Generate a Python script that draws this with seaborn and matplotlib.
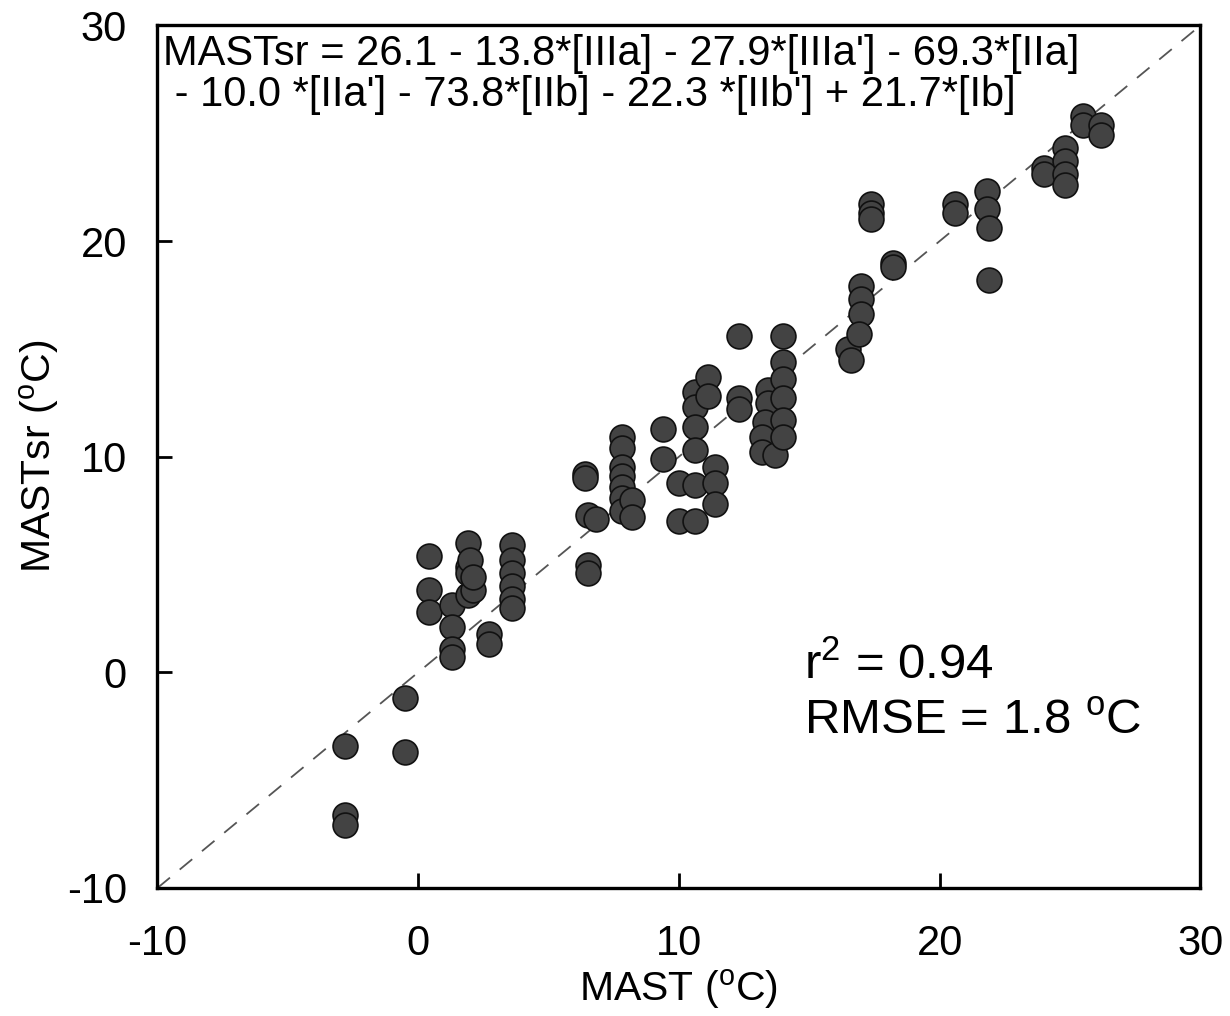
import numpy as np
import pandas as pd
import seaborn as sns
import matplotlib.pyplot as plt

mast = [-2.8, -2.8, -2.8,
        -0.5, -0.5,
        0.4, 0.4, 0.4,
        1.3, 1.3, 1.3, 1.3,
        1.9, 1.9, 1.9, 1.9, 2.1, 2.0, 2.1,
        2.7, 2.7,
        3.6, 3.6, 3.6, 3.6, 3.6, 3.6,
        6.4, 6.4, 6.5, 6.8, 6.5, 6.5,
        7.8, 7.8, 7.8, 7.8, 7.8, 7.8, 7.8,
        8.2, 8.2,
        9.4, 9.4,
        10.0, 10.0,
        10.6, 10.6, 10.6, 10.6, 10.6, 10.6,
        11.1, 11.1,
        11.4, 11.4, 11.4,
        12.3, 12.3, 12.3,
        13.4, 13.4, 13.3, 13.2, 13.2, 13.7,
        14.0, 14.0, 14.0, 14.0, 14.0, 14.0,
        16.5, 16.6,
        17.0, 17.0, 17.0, 16.9,
        17.35, 17.35, 17.35,
        18.2, 18.2,
        20.6, 20.6,
        21.8, 21.8, 21.9, 21.9,
        24.0, 24.0,
        24.8, 24.8, 24.8, 24.8,
        25.5, 25.5,
        26.2, 26.2]
mastsr = [-3.4, -6.6, -7.1,
          -1.2, -3.7,
          5.4, 3.8, 2.8,
          3.1, 2.1, 1.1, 0.7,
          6.0, 4.9, 4.6, 3.6, 3.8, 5.2, 4.4,
          1.8, 1.3,
          5.9, 5.2, 4.6, 4.0, 3.4, 3.0,
          9.2, 9.0, 7.3, 7.1, 5.0, 4.6,
          10.9, 10.4, 9.5, 9.1, 8.6, 8.1, 7.5,
          8.0, 7.2,
          11.3, 9.9,
          8.8, 7.0,
          13.0, 12.3, 11.4, 10.3, 8.7, 7.0,
          13.7, 12.8,
          9.5, 8.8, 7.8,
          15.6, 12.7, 12.2,
          13.1, 12.5, 11.6, 10.9, 10.2, 10.1,
          15.6, 14.4, 13.6, 12.7, 11.7, 10.9,
          15.0, 14.5,
          17.9, 17.3, 16.6, 15.7,
          21.7, 21.3, 21.0,
          19.0, 18.8,
          21.7, 21.3,
          22.3, 21.5, 20.6, 18.2,
          23.4, 23.1,
          24.3, 23.7, 23.1, 22.6,
          25.8, 25.4,
          25.4, 24.9]

axis_range = [-10, 30]
ticks = [-10, 0, 10, 20, 30]

eq_line1 = "MASTsr = 26.1 - 13.8*[IIIa] - 27.9*[IIIa'] - 69.3*[IIa]"
eq_line2 = " - 10.0 *[IIa'] - 73.8*[IIb] - 22.3 *[IIb'] + 21.7*[Ib]"

df = pd.DataFrame({'MAST': mast, 'MASTsr': mastsr})

sns.set_theme(style='ticks')
plt.rcParams['font.family'] = ['Liberation Sans', 'DejaVu Sans']
plt.rcParams['mathtext.fontset'] = 'custom'
plt.rcParams['mathtext.rm'] = 'Liberation Sans'
plt.rcParams['axes.unicode_minus'] = False
for key in ['text.color', 'axes.labelcolor', 'xtick.color', 'ytick.color']:
    plt.rcParams[key] = 'black'

fig = plt.figure(figsize=(12.3, 10.16), dpi=100)
ax = fig.add_axes([0.128, 0.126, 0.848, 0.849])

# 1:1 line
ax.plot(axis_range, axis_range, color='#555555', lw=1.3, dashes=(9, 7), zorder=1)

sns.scatterplot(data=df, x='MAST', y='MASTsr', ax=ax, s=320, color='#434343',
                edgecolor='#111111', linewidth=1.2, zorder=3, legend=False)

ax.set_xlim(axis_range)
ax.set_ylim(axis_range)
ax.set_xticks(ticks)
ax.set_yticks(ticks)
ax.tick_params(direction='in', length=11, width=2, labelsize=30)
ax.tick_params(axis='x', pad=26)
ax.tick_params(axis='y', pad=22)
for sp in ax.spines.values():
    sp.set_linewidth(2.4)
    sp.set_color('black')

ax.set_xlabel(r'MAST ($^{\rm o}$C)', fontsize=29.5, labelpad=2)
ax.set_ylabel(r'MASTsr ($^{\rm o}$C)', fontsize=29.5, labelpad=4)

ax.text(0.005, 0.99, eq_line1, transform=ax.transAxes, fontsize=30,
        va='top', ha='left')
ax.text(0.005, 0.943, eq_line2, transform=ax.transAxes, fontsize=30,
        va='top', ha='left')

ax.text(14.8, 0.3, r'r$^{2}$ = 0.94', fontsize=35.5, ha='left', va='center')
ax.text(14.8, -2.3, r'RMSE = 1.8 $^{\rm o}$C', fontsize=35.5, ha='left', va='center')

fig.savefig('out.png', dpi=100)
